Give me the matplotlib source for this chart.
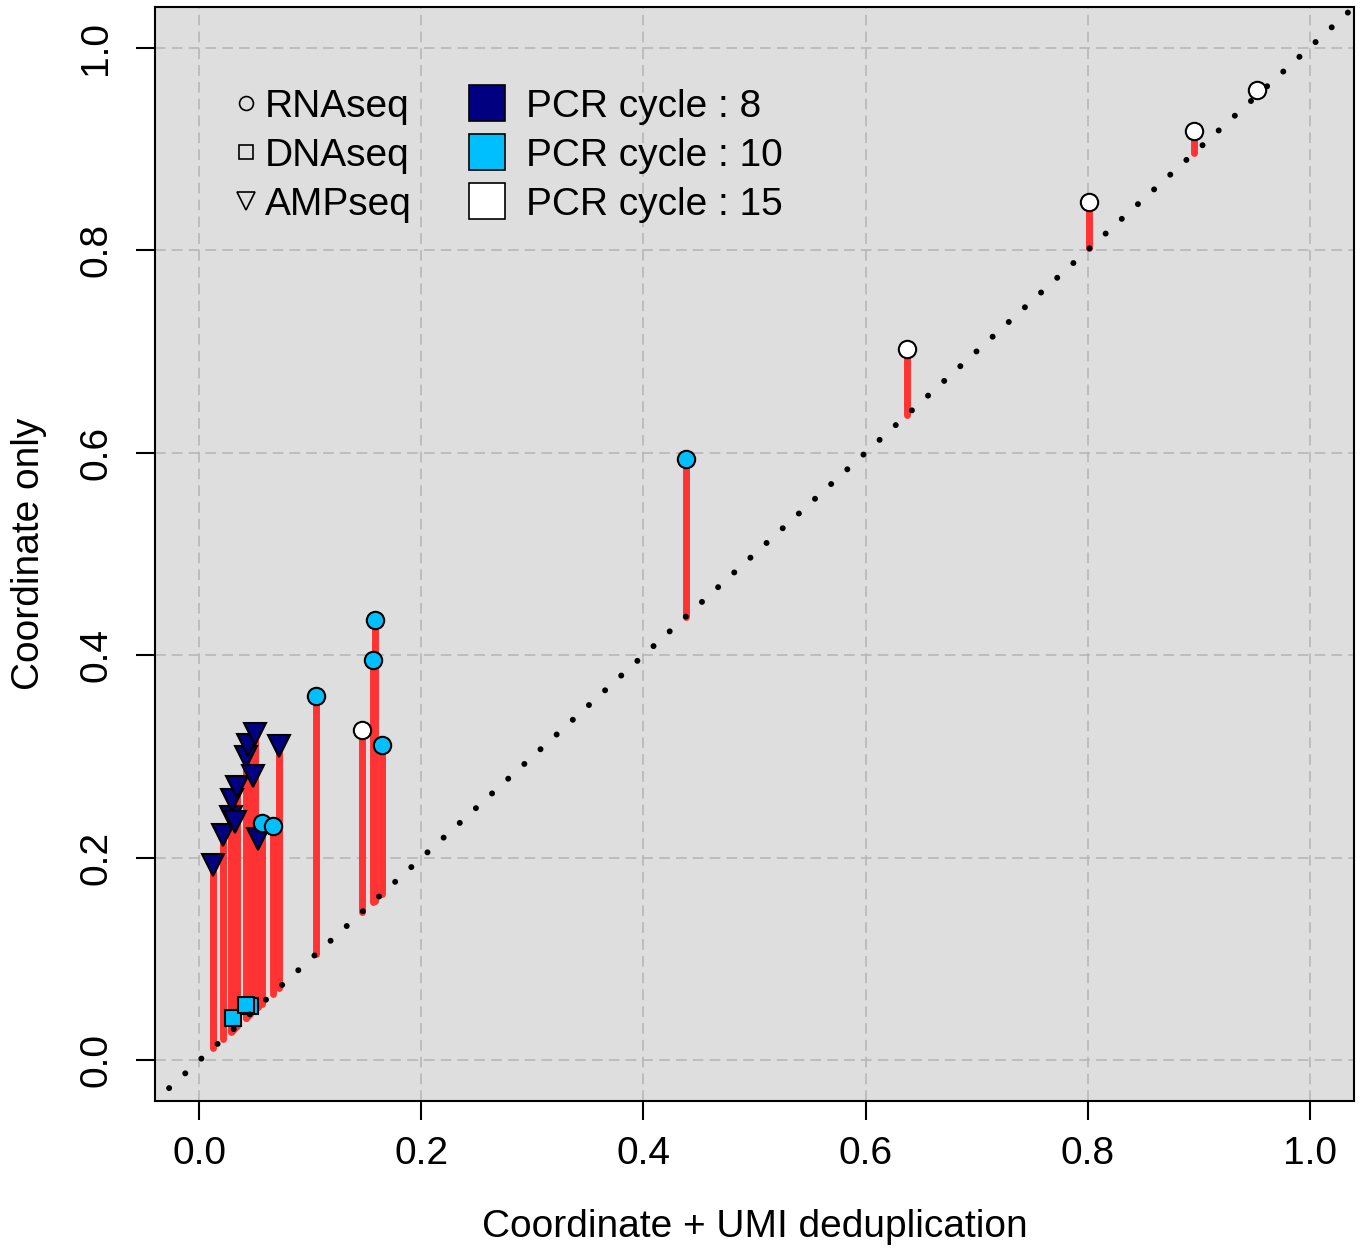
import matplotlib
matplotlib.use("Agg")
import matplotlib.pyplot as plt
import numpy as np

plt.rcParams['font.family'] = ['Liberation Sans', 'DejaVu Sans']

# AMPseq, PCR cycle 8
amp_x = [0.012, 0.0216, 0.0283, 0.0321, 0.0291, 0.0336, 0.042, 0.0441, 0.0501, 0.0486, 0.0531, 0.072]
amp_y = [0.193, 0.223, 0.2404, 0.235, 0.2575, 0.270, 0.300, 0.311, 0.3224, 0.281, 0.2187, 0.310]

# RNAseq, PCR cycle 10
rna10_x = [0.0562, 0.0661, 0.105, 0.1579, 0.1561, 0.1644, 0.438]
rna10_y = [0.2345, 0.2318, 0.360, 0.4346, 0.395, 0.3115, 0.5933]

# RNAseq, PCR cycle 15
rna15_x = [0.1467, 0.637, 0.8017, 0.8963, 0.9523]
rna15_y = [0.326, 0.702, 0.847, 0.9176, 0.958]

# DNAseq, PCR cycle 10
dna_x = [0.0456, 0.030, 0.042]
dna_y = [0.0533, 0.0419, 0.055]

ticks = [0.0, 0.2, 0.4, 0.6, 0.8, 1.0]
tick_labels = ["0.0", "0.2", "0.4", "0.6", "0.8", "1.0"]

shape_labels = ["RNAseq", "DNAseq", "AMPseq"]
shape_markers = ["o", "s", "v"]
shape_sizes = [10, 10, 13]
pcr_labels = ["PCR cycle : 8", "PCR cycle : 10", "PCR cycle : 15"]
pcr_colors = ["#000080", "#00BFFF", "#FFFFFF"]

fig = plt.figure(figsize=(13.63, 12.49), dpi=100)
ax = fig.add_axes([0.1137, 0.1185, 0.8797, 0.8759])
ax.set_facecolor("#DEDEDE")
ax.set_xlim(-0.04, 1.04)
ax.set_ylim(-0.04, 1.04)

for t in ticks:
    ax.axvline(t, color="#B4B4B4", lw=1.1, ls=(0, (7, 4)), zorder=0)
    ax.axhline(t, color="#B4B4B4", lw=1.1, ls=(0, (7, 4)), zorder=0)

# red segments from diagonal to each point
all_x = amp_x + rna10_x + rna15_x + dna_x
all_y = amp_y + rna10_y + rna15_y + dna_y
for xv, yv in zip(all_x, all_y):
    ax.plot([xv, xv], [xv, yv], color="#FF3333", lw=5, solid_capstyle="round", zorder=2)

ms_kw = dict(ls="none", markeredgecolor="black", markeredgewidth=1.5, zorder=3)
ax.plot(amp_x, amp_y, marker="v", markersize=16, markerfacecolor=pcr_colors[0], **ms_kw)
ax.plot(dna_x, dna_y, marker="s", markersize=11, markerfacecolor=pcr_colors[1], **ms_kw)
ax.plot(rna10_x, rna10_y, marker="o", markersize=12.5, markerfacecolor=pcr_colors[1], **ms_kw)
ax.plot(rna15_x, rna15_y, marker="o", markersize=12.5, markerfacecolor=pcr_colors[2], **ms_kw)

# identity line (dotted)
ax.plot([-0.1, 1.1], [-0.1, 1.1], color="black", lw=4.3, ls=(0, (0.01, 3.65)),
        dash_capstyle="round", zorder=4)

# legends drawn by hand
row_y = [0.8995, 0.8547, 0.8099]
for i in range(3):
    ax.plot([0.0759], [row_y[i] + 0.013], transform=ax.transAxes, marker=shape_markers[i],
            markersize=shape_sizes[i], markerfacecolor="none", markeredgecolor="black",
            markeredgewidth=1.2, clip_on=False, zorder=5)
    ax.text(0.0917, row_y[i], shape_labels[i], transform=ax.transAxes, fontsize=28,
            va="baseline", ha="left", zorder=5)
    ax.plot([0.277], [row_y[i] + 0.0125], transform=ax.transAxes, marker="s",
            markersize=26, markerfacecolor=pcr_colors[i], markeredgecolor="black",
            markeredgewidth=1.2, clip_on=False, zorder=5)
    ax.text(0.3094, row_y[i], pcr_labels[i], transform=ax.transAxes, fontsize=28,
            va="baseline", ha="left", zorder=5)

ax.set_xticks(ticks)
ax.set_xticklabels(tick_labels)
ax.set_yticks(ticks)
ax.set_yticklabels(tick_labels, rotation=90, va="center")
ax.tick_params(axis="both", labelsize=28, length=13.5, width=1.5, direction="out")
ax.tick_params(axis="x", pad=12)
ax.tick_params(axis="y", pad=16)
for s in ax.spines.values():
    s.set_linewidth(1.5)

ax.set_xlabel("Coordinate + UMI deduplication", fontsize=28, labelpad=26)
ax.set_ylabel("Coordinate only", fontsize=28, labelpad=22)

fig.savefig("out.png", dpi=100)
